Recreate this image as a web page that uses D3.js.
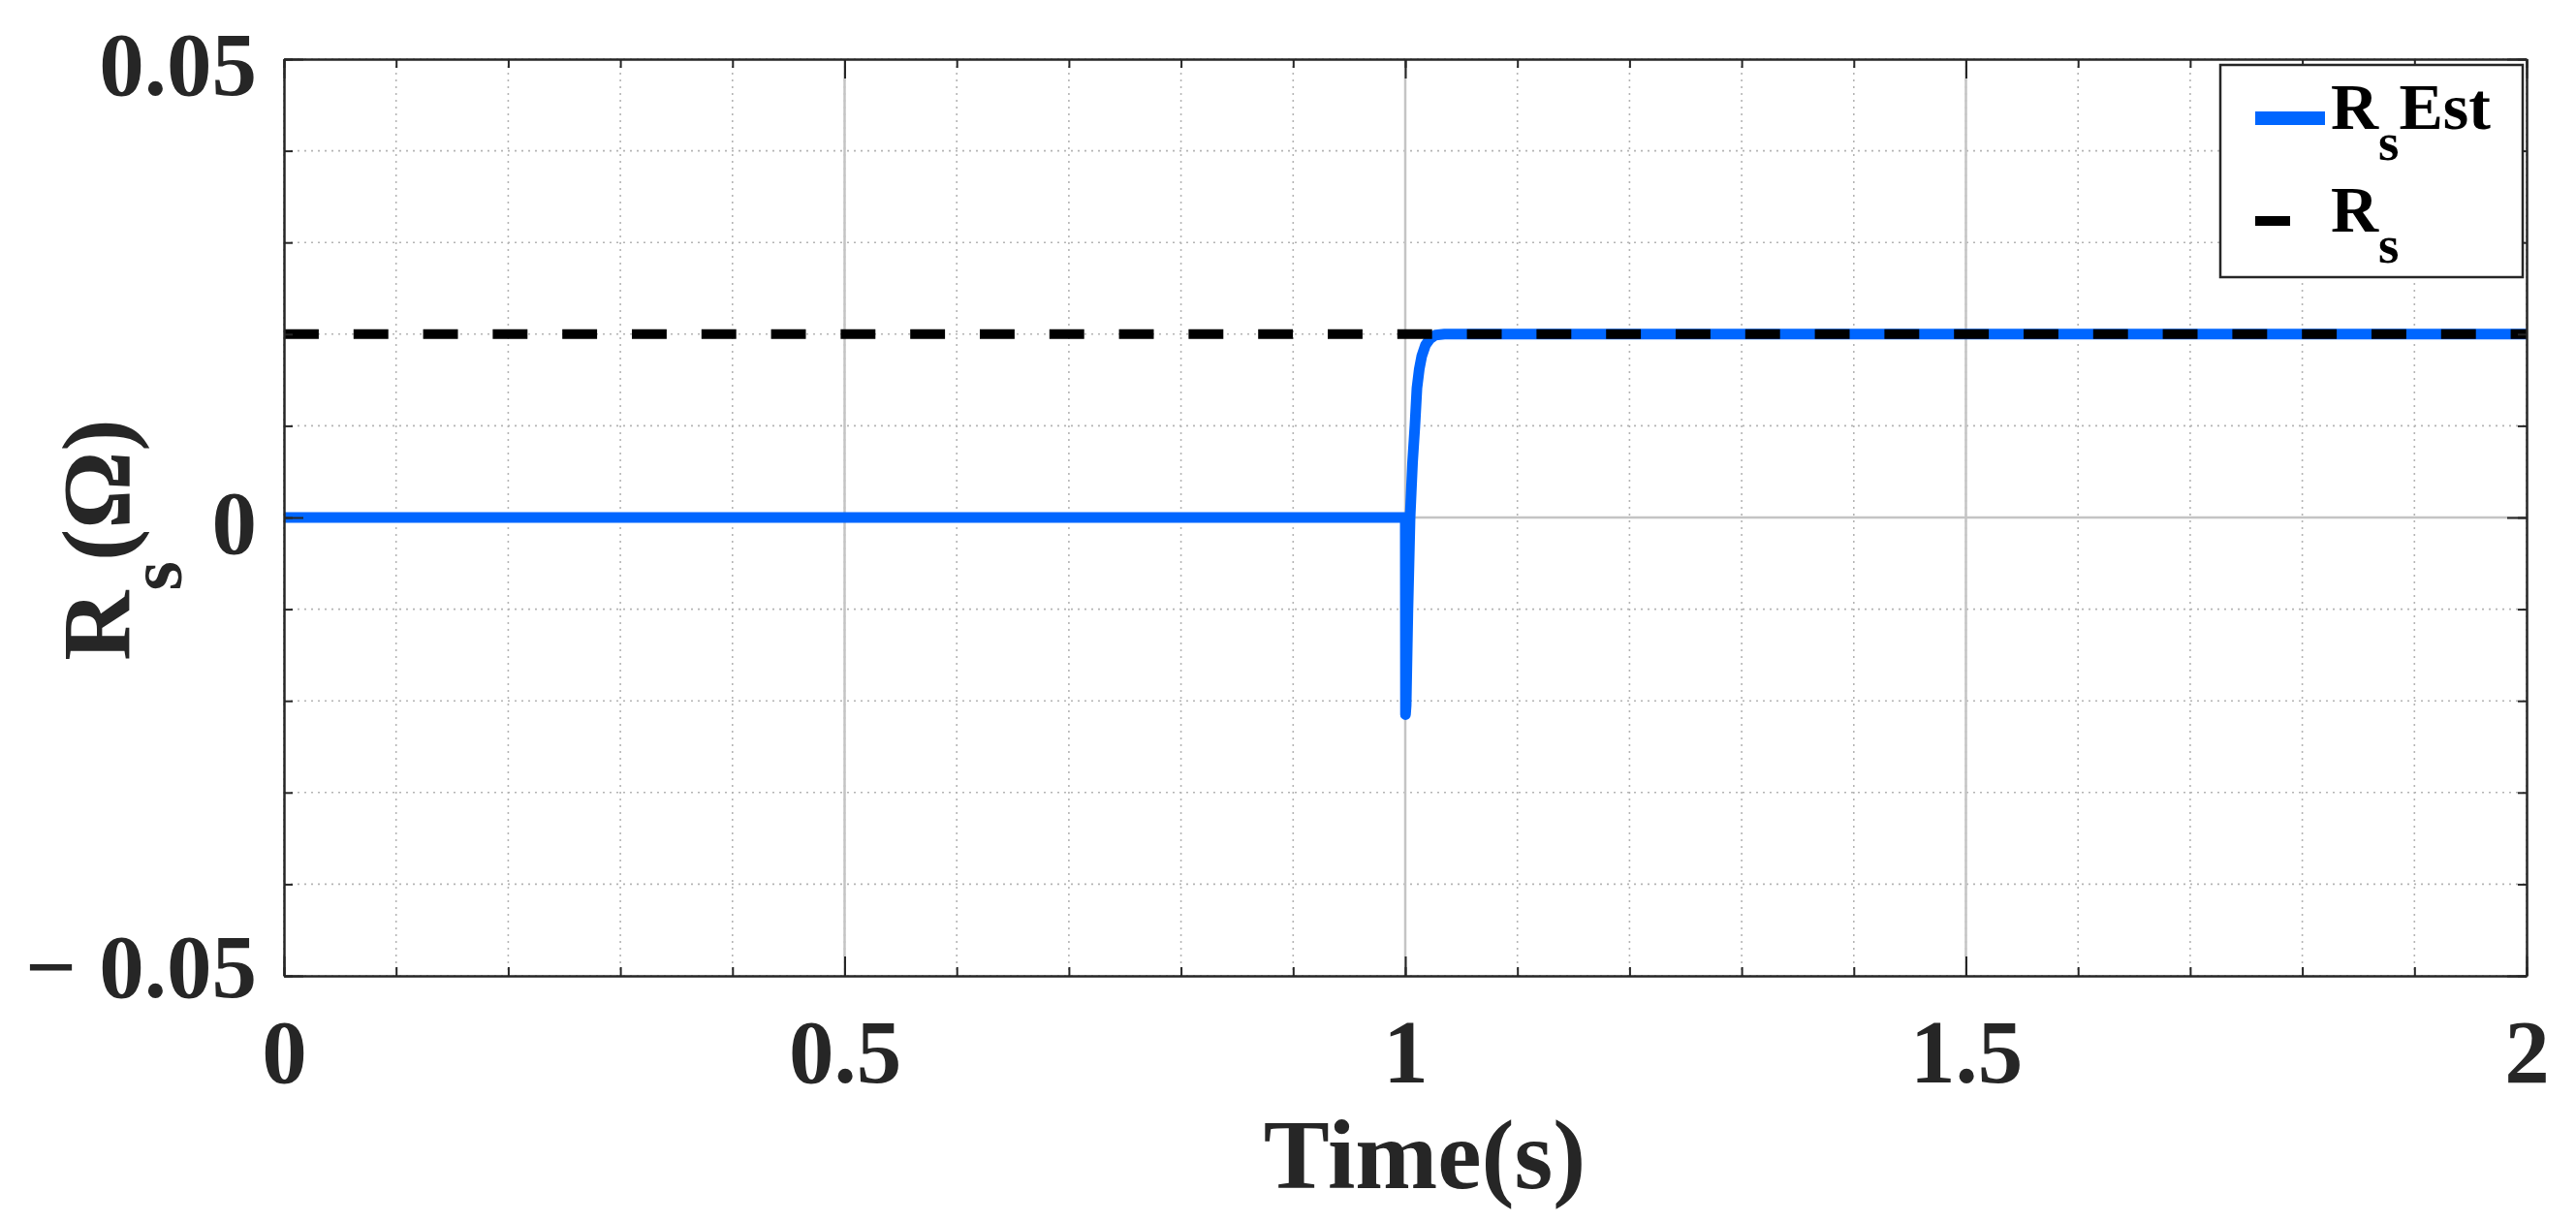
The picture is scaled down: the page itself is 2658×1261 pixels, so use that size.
<html lang="en">
<head>
    <meta charset="utf-8">
    <title>Rs estimation</title>
    <script src="https://d3js.org/d3.v7.min.js"></script>
    <style>
        body { margin: 0; background: #fff; }
        text { font-family: "Liberation Serif", "Times New Roman", serif; font-weight: bold; }
        .grid-minor line { stroke: #b4b4b4; stroke-width: 1.6; stroke-dasharray: 2 5; }
        .grid-major line { stroke: #c4c4c4; stroke-width: 2.5; }
        .axis path, .axis line { stroke: #262626; stroke-width: 2; }
    </style>
</head>
<body>
    <svg width="2658" height="1261"></svg>
    <script>
        // estimated Rs (blue)
        var timeEst = [0, 1.0, 1.0002, 1.0008, 1.0023, 1.0043, 1.0065, 1.0086, 1.0104, 1.0125, 1.0147, 1.018, 1.022, 1.027, 1.035, 2.0];
        var rsEst   = [0, 0, -0.0215, -0.0205, -0.0105, 0, 0.006, 0.010, 0.0141, 0.0162, 0.0176, 0.0188, 0.0195, 0.0199, 0.020, 0.020];
        // true Rs (black dashed)
        var timeRef = [0, 2];
        var rsRef   = [0.02, 0.02];

        var xTicks = [0, 0.5, 1, 1.5, 2];
        var xTickLabels = ["0", "0.5", "1", "1.5", "2"];
        var yTicks = [0.05, 0, -0.05];
        var yTickLabels = ["0.05", "0", "\u2212 0.05"];
        var xMinor = d3.range(0, 21).map(function(i) { return i / 10; });
        var yMinor = d3.range(-5, 6).map(function(i) { return i / 100; });

        var svg = d3.select("svg"),
            margin = {top: 61, right: 51, bottom: 254, left: 293},
            width = +svg.attr("width") - margin.left - margin.right,
            height = +svg.attr("height") - margin.top - margin.bottom,
            g = svg.append("g").attr("transform", "translate(" + margin.left + "," + margin.top + ")");

        var x = d3.scaleLinear().domain([0, 2]).range([0, width]),
            y = d3.scaleLinear().domain([-0.05, 0.05]).range([height, 0]);

        // grid
        g.append("g").attr("class", "grid-minor")
            .selectAll("line.v").data(xMinor).enter().append("line")
            .attr("x1", function(d) { return x(d); }).attr("x2", function(d) { return x(d); })
            .attr("y1", 0).attr("y2", height);
        g.select(".grid-minor")
            .selectAll("line.h").data(yMinor).enter().append("line")
            .attr("y1", function(d) { return y(d); }).attr("y2", function(d) { return y(d); })
            .attr("x1", 0).attr("x2", width);

        var major = g.append("g").attr("class", "grid-major");
        major.selectAll("line.v").data([0.5, 1, 1.5]).enter().append("line")
            .attr("x1", function(d) { return x(d); }).attr("x2", function(d) { return x(d); })
            .attr("y1", 0).attr("y2", height);
        major.selectAll("line.h").data([0]).enter().append("line")
            .attr("y1", function(d) { return y(d); }).attr("y2", function(d) { return y(d); })
            .attr("x1", 0).attr("x2", width);

        // lines
        var line = d3.line()
            .x(function(d) { return x(d[0]); })
            .y(function(d) { return y(d[1]); });

        g.append("path")
            .datum(d3.zip(timeEst, rsEst))
            .attr("d", line)
            .attr("fill", "none")
            .attr("stroke", "#0066ff")
            .attr("stroke-width", 11)
            .attr("stroke-linejoin", "round");

        g.append("path")
            .datum(d3.zip(timeRef, rsRef))
            .attr("d", line)
            .attr("fill", "none")
            .attr("stroke", "#000")
            .attr("stroke-width", 10)
            .attr("stroke-dasharray", "35.9 35.9");

        // axes (ticks inward, box)
        function minorAxis(axis, sel, ticks) {
            sel.call(axis.tickValues(ticks).tickFormat("").tickSizeOuter(0));
        }
        minorAxis(d3.axisBottom(x).tickSize(-9), g.append("g").attr("class", "axis").attr("transform", "translate(0," + height + ")"), xMinor);
        minorAxis(d3.axisTop(x).tickSize(-9), g.append("g").attr("class", "axis"), xMinor);
        minorAxis(d3.axisLeft(y).tickSize(-9), g.append("g").attr("class", "axis"), yMinor);
        minorAxis(d3.axisRight(y).tickSize(-9), g.append("g").attr("class", "axis").attr("transform", "translate(" + width + ",0)"), yMinor);
        minorAxis(d3.axisTop(x).tickSize(-20), g.append("g").attr("class", "axis"), xTicks);
        minorAxis(d3.axisRight(y).tickSize(-20), g.append("g").attr("class", "axis").attr("transform", "translate(" + width + ",0)"), yTicks);

        var xAxis = g.append("g")
            .attr("class", "axis")
            .attr("transform", "translate(0," + height + ")")
            .call(d3.axisBottom(x).tickValues(xTicks).tickSize(-20).tickSizeOuter(0).tickPadding(44)
                .tickFormat(function(d, i) { return xTickLabels[i]; }));
        xAxis.selectAll("text").style("font-size", "93px").attr("fill", "#262626");

        var yAxis = g.append("g")
            .attr("class", "axis")
            .call(d3.axisLeft(y).tickValues(yTicks).tickSize(-20).tickSizeOuter(0).tickPadding(28)
                .tickFormat(function(d, i) { return yTickLabels[i]; }));
        yAxis.selectAll("text")
            .style("font-size", "93px").attr("fill", "#262626")
            .attr("dy", function(d) { return d === -0.05 ? "21px" : "36px"; });

        // axis titles
        svg.append("text")
            .attr("x", 1470).attr("y", 1226)
            .attr("text-anchor", "middle")
            .style("font-size", "102px").attr("fill", "#262626")
            .text("Time(s)");

        var yt = svg.append("text")
            .attr("transform", "translate(133,557) rotate(-90)")
            .attr("text-anchor", "middle")
            .style("font-size", "100px").attr("fill", "#262626");
        yt.append("tspan").text("R");
        yt.append("tspan").style("font-size", "78px").attr("dy", 54).text("s");
        yt.append("tspan").attr("dy", -54).text("(\u03a9)");

        // legend
        var legendNames = ["Est", ""];
        var legendColors = ["#0066ff", "#000"];
        var legendLen = [72, 36];
        var legendWidth = [14, 10];
        var lg = svg.append("g");
        lg.append("rect")
            .attr("x", 2291).attr("y", 67).attr("width", 312).attr("height", 219)
            .attr("fill", "#fff").attr("stroke", "#262626").attr("stroke-width", 2.5);
        var item = lg.selectAll("g.item").data(legendNames).enter().append("g")
            .attr("transform", function(d, i) { return "translate(2327," + (122 + i * 106) + ")"; });
        item.append("line")
            .attr("x1", 0).attr("x2", function(d, i) { return legendLen[i]; })
            .attr("stroke", function(d, i) { return legendColors[i]; })
            .attr("stroke-width", function(d, i) { return legendWidth[i]; });
        var lt = item.append("text")
            .attr("x", 78).attr("y", 11)
            .style("font-size", "68px").attr("fill", "#000");
        lt.append("tspan").text("R");
        lt.append("tspan").style("font-size", "55px").attr("dy", 32).text("s");
        lt.append("tspan").attr("dy", -32).text(function(d) { return d; });
    </script>
</body>
</html>
